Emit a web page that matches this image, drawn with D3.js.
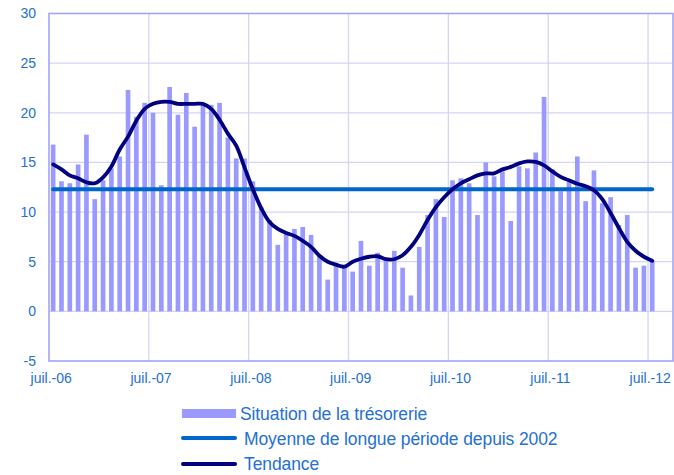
<!DOCTYPE html>
<html>
<head>
<meta charset="utf-8">
<script src="https://cdn.jsdelivr.net/npm/d3@7"></script>
<style>
  html, body { margin: 0; padding: 0; background: #fff; }
  svg { display: block; font-family: "Liberation Sans", Arial, sans-serif; }
</style>
</head>
<body>
<svg id="chart" width="674" height="475"></svg>
<script>
// ---- Data (monthly, juil.-06 .. juil.-12) ----
const startMonth = "2006-07";
const nCategories = 75; // axis runs a little past the last data point
const tresorerie = [
  16.8, 13.1, 12.9, 14.8, 17.8, 11.3, 13.2, 14.4, 15.6, 22.3, 19.6, 21.0,
  20.0, 12.7, 22.6, 19.8, 22.0, 18.6, 20.8, 20.8, 21.0, 17.5, 15.4, 15.4,
  13.1, 10.5, 9.2, 6.7, 7.8, 8.3, 8.5, 7.7, 5.7, 3.2, 4.6, 4.4,
  4.0, 7.1, 4.6, 5.9, 5.3, 6.1, 4.4, 1.6, 6.5, 9.7, 11.3, 9.5,
  13.2, 13.4, 12.9, 9.7, 15.0, 13.6, 14.1, 9.1, 14.6, 14.4, 16.0, 21.6,
  14.3, 12.1, 13.1, 15.6, 11.1, 14.2, 10.9, 11.5, 8.7, 9.7, 4.4, 4.6,
  5.1
];
const tendance = [
  14.8, 14.3, 13.7, 13.4, 13.0, 12.9, 13.5, 14.6, 16.3, 17.6, 19.2, 20.4,
  20.9, 21.1, 21.1, 20.9, 20.9, 20.9, 20.9, 20.4, 19.3, 17.9, 16.7, 14.5,
  12.3, 10.4, 9.0, 8.3, 7.9, 7.6, 7.1, 6.5, 5.6, 5.0, 4.7, 4.5,
  5.0, 5.3, 5.5, 5.55, 5.25, 5.25, 5.65, 6.5, 7.7, 9.2, 10.5, 11.5,
  12.3, 12.9, 13.3, 13.7, 13.9, 13.9, 14.3, 14.55, 14.9, 15.1, 15.05, 14.7,
  14.1, 13.55, 13.2, 12.85, 12.6, 12.2, 11.3, 9.9, 8.4, 7.0, 6.1, 5.5,
  5.1
];
const moyenne = 12.3;
const yTicks = [-5, 0, 5, 10, 15, 20, 25, 30];
const xTickLabels = ["juil.-06", "juil.-07", "juil.-08", "juil.-09", "juil.-10", "juil.-11", "juil.-12"];
const legendLabels = ["Situation de la trésorerie", "Moyenne de longue période depuis 2002", "Tendance"];

// ---- Layout ----
const colBar = "#9999FF", colMean = "#0066CC", colTrend = "#000080";
const colText = "#2570D2", colGrid = "#D4D4F6", colAxis = "#A3A3F6";
const plot = { left: 49, right: 673, top: 13.5, bottom: 361 };

const start = d3.timeParse("%Y-%m")(startMonth);
const categories = d3.range(nCategories).map(i => d3.timeMonth.offset(start, i));

const svg = d3.select("#chart");
const x = d3.scaleBand().domain(d3.range(nCategories)).range([plot.left, plot.right]).padding(0);
const y = d3.scaleLinear().domain([-5, 30]).range([plot.bottom, plot.top]);
const bw = x.bandwidth();
const cx = i => x(i) + bw / 2;

// horizontal gridlines
svg.append("g").selectAll("line").data(yTicks.filter(v => v > -5 && v < 30)).join("line")
  .attr("x1", plot.left).attr("x2", plot.right)
  .attr("y1", d => y(d)).attr("y2", d => y(d))
  .attr("stroke", colGrid).attr("stroke-width", 1.3);

// vertical gridlines at year boundaries
const yearIdx = xTickLabels.map((_, k) => k * 12);
svg.append("g").selectAll("line").data(yearIdx.filter(i => i > 0)).join("line")
  .attr("x1", d => x(d)).attr("x2", d => x(d))
  .attr("y1", plot.top).attr("y2", plot.bottom)
  .attr("stroke", colGrid).attr("stroke-width", 1.3);

// bars
const barW = bw * 0.56;
svg.append("g").selectAll("rect").data(tresorerie).join("rect")
  .attr("x", (d, i) => cx(i) - barW / 2)
  .attr("width", barW)
  .attr("y", d => Math.min(y(d), y(0)))
  .attr("height", d => Math.abs(y(0) - y(d)))
  .attr("fill", colBar);

// mean line
svg.append("line")
  .attr("x1", cx(0)).attr("x2", cx(tresorerie.length - 1))
  .attr("y1", y(moyenne)).attr("y2", y(moyenne))
  .attr("stroke", colMean).attr("stroke-width", 4).attr("stroke-linecap", "round");

// trend line
svg.append("path")
  .datum(tendance)
  .attr("d", d3.line().x((d, i) => cx(i)).y(d => y(d)).curve(d3.curveCatmullRom.alpha(0.5)))
  .attr("fill", "none").attr("stroke", colTrend).attr("stroke-width", 3.8)
  .attr("stroke-linejoin", "round").attr("stroke-linecap", "round");

// plot frame
svg.append("rect")
  .attr("x", plot.left).attr("y", plot.top)
  .attr("width", plot.right - plot.left).attr("height", plot.bottom - plot.top)
  .attr("fill", "none").attr("stroke", colAxis).attr("stroke-width", 1.6);

// y axis labels
const yAxis = d3.axisLeft(y).tickValues(yTicks).tickSize(0).tickPadding(13)
  .tickFormat(d => String(d));
const gy = svg.append("g").attr("transform", `translate(${plot.left},0)`).call(yAxis);
gy.select(".domain").remove();
gy.selectAll("text").attr("fill", colText).attr("font-size", 14)
  .attr("font-family", "Liberation Sans, Arial, sans-serif");

// x axis labels
const xAxis = d3.axisBottom(x).tickValues(yearIdx).tickSize(0).tickPadding(12)
  .tickFormat((d, k) => xTickLabels[k]);
const gx = svg.append("g").attr("transform", `translate(-2,${plot.bottom})`).call(xAxis);
gx.select(".domain").remove();
gx.selectAll("text").attr("fill", colText).attr("font-size", 14)
  .attr("font-family", "Liberation Sans, Arial, sans-serif");

// legend
const lg = svg.append("g");
const lx0 = 182, lx1 = 236;
lg.append("rect").attr("x", lx0).attr("y", 409).attr("width", lx1 - lx0).attr("height", 9).attr("fill", colBar);
lg.append("line").attr("x1", lx0 + 1).attr("x2", lx1 - 1).attr("y1", 438).attr("y2", 438)
  .attr("stroke", colMean).attr("stroke-width", 4).attr("stroke-linecap", "round");
lg.append("line").attr("x1", lx0 + 1).attr("x2", lx1 - 1).attr("y1", 464).attr("y2", 464)
  .attr("stroke", colTrend).attr("stroke-width", 4).attr("stroke-linecap", "round");
const legPos = [[240, 420], [244, 445], [244, 470]];
lg.selectAll("text").data(legendLabels).join("text")
  .attr("x", (d, i) => legPos[i][0]).attr("y", (d, i) => legPos[i][1])
  .attr("fill", colText).attr("font-size", 17.5).attr("letter-spacing", -0.1)
  .attr("font-family", "Liberation Sans, Arial, sans-serif")
  .text(d => d);
</script>
</body>
</html>
